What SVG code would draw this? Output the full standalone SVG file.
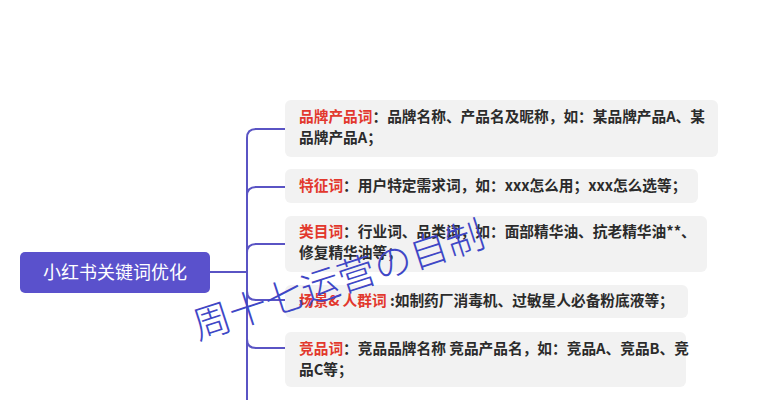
<svg xmlns="http://www.w3.org/2000/svg" width="764" height="400" viewBox="0 0 764 400">
<style>
.box{fill:#f2f2f2;}
.t{font-family:"Noto Sans CJK SC","Liberation Sans",sans-serif;font-size:14.7px;font-weight:bold;fill:#2b2b2b;}
.r{fill:#e2382d;}
.ln{fill:none;stroke:#5a54c4;stroke-width:2;}
.root{fill:#5a51cc;}
.rt{font-family:"Noto Sans CJK SC","Liberation Sans",sans-serif;font-size:18px;fill:#ffffff;}
.wm{font-family:"Noto Sans CJK SC","Liberation Sans",sans-serif;font-size:38px;font-weight:300;fill:#3f47c6;}
</style>
<rect width="764" height="400" fill="#ffffff"/>
<g id="connectors">
<path class="ln" d="M210,272 L247,272"/>
<path class="ln" d="M247,400 L247,138 Q247,129 256,129 L285,129"/>
<path class="ln" d="M247,196 Q247,187 256,187 L285,187"/>
<path class="ln" d="M247,253 Q247,244 256,244 L285,244"/>
<path class="ln" d="M247,291 Q247,300 256,300 L285,300"/>
<path class="ln" d="M247,339 Q247,348 256,348 L285,348"/>
</g>
<g id="root">
<rect class="root" x="20" y="252" width="190" height="41" rx="5"/>
<text class="rt" x="115" y="278.5" text-anchor="middle">小红书关键词优化</text>
</g>
<g id="n1">
<rect class="box" x="285" y="100" width="433" height="57" rx="6"/>
<text class="t" x="299" y="122"><tspan class="r">品牌产品词</tspan>：品牌名称、产品名及昵称，如：某品牌产品A、某</text>
<text class="t" x="299" y="143">品牌产品A；</text>
</g>
<g id="n2">
<rect class="box" x="285" y="169" width="413" height="34" rx="6"/>
<text class="t" x="299" y="191"><tspan class="r">特征词</tspan>：用户特定需求词，如：xxx怎么用；xxx怎么选等；</text>
</g>
<g id="n3">
<rect class="box" x="285" y="216" width="422" height="56" rx="6"/>
<text class="t" x="299" y="237"><tspan class="r">类目词</tspan>：行业词、品类词，如：面部精华油、抗老精华油**、</text>
<text class="t" x="299" y="258">修复精华油等；</text>
</g>
<g id="n4">
<rect class="box" x="285" y="285" width="403" height="33" rx="6"/>
<text class="t" x="299" y="306"><tspan class="r">场景&amp; 人群词</tspan> :如制药厂消毒机、过敏星人必备粉底液等；</text>
</g>
<g id="n5">
<rect class="box" x="285" y="332" width="401" height="55" rx="6"/>
<text class="t" x="299" y="354"><tspan class="r">竞品词</tspan>：竞品品牌名称 竞品产品名，如：竞品A、竞品B、竞</text>
<text class="t" x="299" y="375">品C等；</text>
</g>
<text class="wm" transform="translate(198,340) rotate(-18)">周十七运营の自制</text>
</svg>
